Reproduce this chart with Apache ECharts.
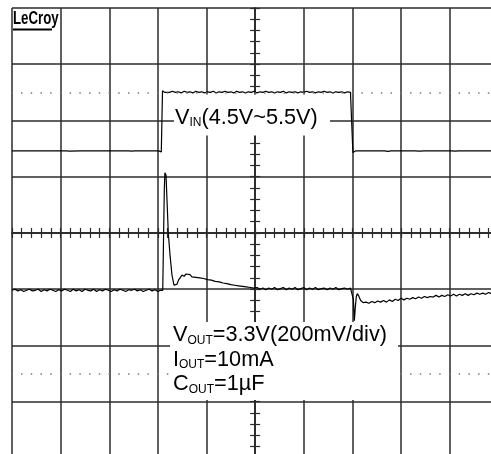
<!DOCTYPE html>
<html>
<head>
<meta charset="utf-8">
<script src="https://cdn.jsdelivr.net/npm/echarts@6/dist/echarts.min.js"></script>
<style>
  html, body { margin: 0; padding: 0; background: #ffffff; }
  #scope { width: 491px; height: 454px; }
</style>
</head>
<body>
<div id="scope"></div>
<script>
// Screen graticule, in divisions: 10 across, 8 down, centred on 0.
const timeRange = [-5, 5];
const levelRange = [-4, 4];
// Half-division dotted reference levels.
const dottedLevels = [2.5, -2.5];

// Channel 1: input step, [time div, level div].
const vinTrace = [
  [-5.00,1.46],[-4.67,1.46],[-4.64,1.475],[-4.61,1.46],[-4.58,1.47],[-4.55,1.46],
  [-3.88,1.46],[-3.85,1.475],[-3.82,1.455],[-3.79,1.46],[-3.59,1.46],[-3.56,1.47],
  [-3.53,1.46],[-3.20,1.46],[-3.17,1.48],[-3.14,1.46],[-2.60,1.46],[-2.57,1.47],
  [-2.54,1.455],[-2.51,1.47],[-2.48,1.46],[-2.15,1.46],[-2.12,1.47],[-2.09,1.46],
  [-1.98,1.46],[-1.95,1.445],[-1.93,1.44],[-1.915,1.46],[-1.905,2.53],
  [-1.89,2.53],[-1.86,2.50],[-1.82,2.52],[-1.76,2.50],[-1.70,2.52],[-1.64,2.50],
  [-1.58,2.51],[-1.52,2.49],[-1.46,2.52],[-1.40,2.50],[-1.34,2.51],[-1.28,2.49],
  [-1.22,2.52],[-1.16,2.50],[-1.10,2.51],[-1.04,2.49],[-0.98,2.51],[-0.92,2.50],
  [-0.86,2.52],[-0.80,2.49],[-0.74,2.51],[-0.68,2.50],[-0.62,2.52],[-0.56,2.50],
  [-0.50,2.51],[-0.44,2.49],[-0.38,2.52],[-0.32,2.50],[-0.26,2.51],[-0.20,2.49],
  [-0.14,2.51],[-0.08,2.50],[-0.02,2.52],[0.04,2.49],[0.10,2.51],[0.16,2.50],
  [0.22,2.52],[0.28,2.50],[0.34,2.51],[0.40,2.49],[0.46,2.51],[0.52,2.50],
  [0.58,2.52],[0.64,2.49],[0.70,2.51],[0.76,2.50],[0.82,2.51],[0.88,2.49],
  [0.94,2.51],[1.00,2.50],[1.06,2.52],[1.12,2.50],[1.18,2.51],[1.24,2.49],
  [1.30,2.51],[1.36,2.50],[1.42,2.52],[1.48,2.50],[1.54,2.51],[1.60,2.49],
  [1.66,2.51],[1.72,2.50],[1.78,2.51],[1.84,2.49],[1.90,2.51],[1.96,2.50],
  [2.00,2.51],[2.01,1.43],[2.03,1.44],[2.05,1.42],[2.07,1.46],
  [2.66,1.46],[2.70,1.47],[2.73,1.45],[2.76,1.48],[2.79,1.46],[2.83,1.475],
  [2.86,1.46],[3.30,1.46],[3.34,1.47],[3.37,1.455],[3.40,1.46],[3.48,1.46],
  [3.51,1.47],[3.54,1.46],[4.05,1.46],[4.09,1.475],[4.12,1.455],[4.15,1.47],
  [4.18,1.46],[5.00,1.46]
];

// Channel 2: output response (200 mV/div), [time div, level div].
const voutTrace = [
  [-5.00,-1.02],[-4.94,-1.00],[-4.88,-1.03],[-4.82,-1.01],[-4.76,-1.04],[-4.70,-1.02],
  [-4.64,-1.00],[-4.58,-1.03],[-4.52,-1.02],[-4.46,-1.00],[-4.40,-1.04],[-4.34,-1.01],
  [-4.28,-1.03],[-4.22,-1.00],[-4.16,-1.02],[-4.10,-1.04],[-4.04,-1.01],[-3.98,-1.03],
  [-3.92,-1.00],[-3.86,-1.02],[-3.80,-1.04],[-3.74,-1.00],[-3.68,-1.03],[-3.62,-1.01],
  [-3.56,-1.04],[-3.50,-1.00],[-3.44,-1.02],[-3.38,-1.03],[-3.32,-1.00],[-3.26,-1.04],
  [-3.20,-1.01],[-3.14,-1.03],[-3.08,-1.00],[-3.02,-1.02],[-2.96,-1.04],[-2.90,-1.01],
  [-2.84,-1.03],[-2.78,-1.00],[-2.72,-1.02],[-2.66,-1.04],[-2.60,-1.01],[-2.54,-1.02],
  [-2.48,-1.00],[-2.42,-1.03],[-2.36,-1.01],[-2.30,-1.04],[-2.24,-1.02],[-2.18,-1.00],
  [-2.12,-1.03],[-2.06,-1.01],[-2.00,-1.04],[-1.95,-1.02],[-1.91,-1.03],
  [-1.900,-1.02],[-1.889,-0.39],[-1.868,0.77],[-1.856,1.07],[-1.845,1.05],[-1.833,1.03],
  [-1.813,0.59],[-1.786,0.00],[-1.751,-0.39],[-1.710,-0.75],[-1.669,-0.93],[-1.638,-0.96],
  [-1.607,-0.91],[-1.576,-0.84],[-1.545,-0.80],[-1.504,-0.75],
  [-1.46,-0.77],[-1.42,-0.73],[-1.38,-0.76],[-1.34,-0.74],[-1.30,-0.78],[-1.26,-0.75],
  [-1.22,-0.79],[-1.18,-0.76],[-1.14,-0.80],[-1.10,-0.77],[-1.06,-0.81],[-1.02,-0.79],
  [-0.98,-0.83],[-0.94,-0.80],[-0.90,-0.84],[-0.86,-0.82],[-0.82,-0.86],[-0.78,-0.84],
  [-0.74,-0.87],[-0.70,-0.85],[-0.66,-0.89],[-0.62,-0.87],[-0.58,-0.90],[-0.54,-0.88],
  [-0.50,-0.92],[-0.46,-0.90],[-0.42,-0.93],[-0.38,-0.91],[-0.34,-0.94],[-0.30,-0.93],
  [-0.26,-0.95],[-0.22,-0.94],[-0.18,-0.96],[-0.14,-0.95],[-0.10,-0.97],[-0.06,-0.96],
  [-0.02,-0.98],[0.04,-0.97],[0.10,-1.00],[0.16,-0.98],[0.22,-1.01],[0.28,-0.98],
  [0.34,-1.00],[0.40,-0.97],[0.46,-1.01],[0.52,-0.99],[0.58,-0.97],[0.64,-1.01],
  [0.70,-0.98],[0.76,-1.00],[0.82,-0.97],[0.88,-1.01],[0.94,-0.99],[1.00,-0.97],
  [1.06,-1.01],[1.12,-0.98],[1.18,-1.00],[1.24,-0.97],[1.30,-1.01],[1.36,-0.99],
  [1.42,-0.98],[1.48,-1.01],[1.54,-0.98],[1.60,-1.00],[1.66,-0.97],[1.72,-1.01],
  [1.78,-0.99],[1.84,-0.98],[1.90,-1.00],[1.96,-0.98],
  [2.00,-1.00],[2.02,-1.18],[2.04,-1.56],[2.06,-1.32],[2.08,-1.13],[2.10,-1.08],
  [2.13,-1.12],[2.17,-1.20],[2.22,-1.24],
  [2.28,-1.23],[2.34,-1.25],[2.40,-1.22],[2.46,-1.24],[2.52,-1.21],[2.58,-1.23],
  [2.64,-1.20],[2.70,-1.23],[2.76,-1.19],[2.82,-1.22],[2.88,-1.18],[2.94,-1.20],
  [3.00,-1.16],[3.06,-1.19],[3.12,-1.16],[3.18,-1.18],[3.24,-1.15],[3.30,-1.17],
  [3.36,-1.14],[3.42,-1.16],[3.48,-1.13],[3.54,-1.15],[3.60,-1.13],[3.66,-1.14],
  [3.72,-1.11],[3.78,-1.14],[3.84,-1.11],[3.90,-1.13],[3.96,-1.10],[4.02,-1.12],
  [4.08,-1.09],[4.14,-1.12],[4.20,-1.09],[4.26,-1.11],[4.32,-1.08],[4.38,-1.11],
  [4.44,-1.08],[4.50,-1.10],[4.56,-1.07],[4.62,-1.09],[4.68,-1.07],[4.74,-1.09],
  [4.80,-1.06],[4.86,-1.08],[4.92,-1.06],[4.98,-1.07]
];

// Annotation texts: [main, subscript, rest]
const vinText = ['V', 'IN', '(4.5V~5.5V)'];
const voutLines = [
  ['V', 'OUT', '=3.3V(200mV/div)'],
  ['I', 'OUT', '=10mA'],
  ['C', 'OUT', '=1\u00B5F']
];
const brand = 'LeCroy';

const GRID = '#2b2b2b';
const FONT = '"Liberation Sans", Arial, sans-serif';

function richLine(parts) {
  return '{v|' + parts[0] + '}{s|' + parts[1] + '}{v|' + parts[2] + '}';
}

function axis(range, position, showSplit) {
  return {
    type: 'value',
    min: range[0],
    max: range[1],
    interval: 1,
    position: position,
    axisLine: { show: true, onZero: true, onZeroAxisIndex: 0,
      lineStyle: { color: GRID, width: 1.5 } },
    axisTick: { show: true, inside: false, length: 5,
      lineStyle: { color: GRID, width: 1.2 } },
    minorTick: { show: true, splitNumber: 5, length: 5,
      lineStyle: { color: GRID, width: 1.2 } },
    axisLabel: { show: false },
    splitLine: { show: showSplit, lineStyle: { color: GRID, width: 1.5 } },
    minorSplitLine: { show: false }
  };
}

const chart = echarts.init(document.getElementById('scope'), null, { renderer: 'canvas' });

const richStyles = (lh) => ({
  v: { fontSize: 21.7, fontFamily: FONT, fill: '#000', lineHeight: lh, verticalAlign: 'bottom' },
  s: { fontSize: 12, fontFamily: FONT, fill: '#000', lineHeight: lh - 5.6, verticalAlign: 'bottom' }
});

chart.setOption({
  animation: false,
  backgroundColor: '#ffffff',
  grid: { left: 12, top: 8, width: 486.3, height: 449.9, containLabel: false, outerBoundsMode: 'none' },
  xAxis: [axis(timeRange, 'bottom', true), axis(timeRange, 'top', false)],
  yAxis: [axis(levelRange, 'left', true), axis(levelRange, 'right', false)],
  series: [
    {
      name: 'VIN',
      type: 'line',
      data: vinTrace,
      showSymbol: false,
      symbol: 'none',
      lineStyle: { color: '#000', width: 1.2 },
      z: 3,
      markLine: {
        silent: true,
        symbol: 'none',
        label: { show: false },
        lineStyle: { color: '#7a7a7a', width: 1.5, type: [1.5, 8.226], dashOffset: 0.75 },
        data: dottedLevels.map(v => ({ yAxis: v }))
      }
    },
    {
      name: 'VOUT',
      type: 'line',
      data: voutTrace,
      showSymbol: false,
      symbol: 'none',
      lineStyle: { color: '#000', width: 1.2 },
      z: 3
    }
  ],
  graphic: [
    { type: 'rect', z: 100, shape: { x: 174, y: 94.5, width: 156, height: 41 }, style: { fill: '#fff' } },
    { type: 'text', z: 101, x: 175, y: 105,
      style: { text: richLine(vinText), rich: richStyles(24), verticalAlign: 'top', align: 'left' } },
    { type: 'rect', z: 100, shape: { x: 170, y: 322, width: 228, height: 78 }, style: { fill: '#fff' } },
    { type: 'text', z: 101, x: 173, y: 322,
      style: { text: voutLines.map(richLine).join('\n'), rich: richStyles(24.5), verticalAlign: 'top', align: 'left' } },
    { type: 'text', z: 101, x: 13, y: 10.5, scaleX: 0.83, scaleY: 1.1,
      style: { text: brand, fontFamily: FONT,
        fontWeight: 'bold', fontSize: 16, fill: '#000', verticalAlign: 'top', align: 'left' } },
    { type: 'line', z: 101, shape: { x1: 13, y1: 29.5, x2: 52, y2: 29.5 }, style: { stroke: '#000', lineWidth: 2 } }
  ]
});
</script>
</body>
</html>
